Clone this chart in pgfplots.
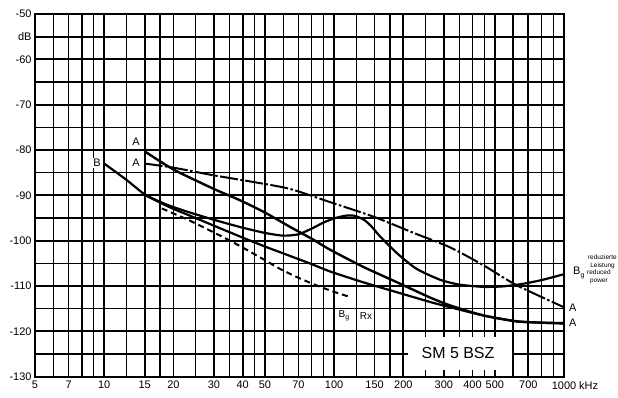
\documentclass[border=0pt]{standalone}
\usepackage{fontspec}
\setmainfont{Liberation Sans}
\usepackage{pgfplots}
\pgfplotsset{compat=1.18}
\begin{document}
\begin{tikzpicture}[x=1bp,y=1bp]
\useasboundingbox (-35,-20.4) rectangle (583,376.6);
\begin{semilogxaxis}[
  at={(0,0)}, anchor=south west,
  scale only axis, width=529bp, height=362.6bp,
  xmin=5, xmax=1000, ymin=-130, ymax=-50,
  xtick={5,7,10,15,20,30,40,50,70,100,150,200,300,400,500,700,1000},
  xticklabels={5,7,10,15,20,30,40,50,70,100,150,200,300,400,500,700,1000\rlap{ kHz}},
  minor xtick={6,8,9,12.5,17.5,25,35,45,60,80,90,125,175,250,350,450,600,800,900},
  ytick={-130,-120,-110,-100,-90,-80,-70,-60,-55,-50},
  yticklabels={-130,-120,-110,-100,-90,-80,-70,-60,dB,-50},
  minor ytick={-125,-115,-105,-95,-85,-75,-65},
  grid=both,
  major grid style={black, line width=1.8bp},
  minor grid style={black, line width=1.2bp},
  major tick length=0pt, minor tick length=0pt,
  axis line style={black, line width=2bp},
  tick label style={font=\fontsize{11}{11}\selectfont},
  xticklabel style={yshift=-1bp},
  /pgf/number format/assume math mode=true,
  clip=false,
]
% Bg reduced power (B curve with hump)
\addplot[black, line width=2.2bp, smooth, tension=0.4] coordinates {
 (10,-83) (12.5,-86.6) (15,-89.8) (17.8,-91.6) (20,-92.6) (23.6,-93.8) (30,-95.4)
 (39,-97.0) (50,-98.3) (60,-98.9) (70,-98.6) (81,-97.2) (90,-96.0) (100,-95.1)
 (112,-94.5) (122,-94.5) (134,-95.3) (145,-96.8) (158,-99.0) (188,-102.8)
 (228,-106.2) (288,-108.6) (350,-109.7) (445,-110.2) (540,-110.1) (650,-109.6)
 (800,-108.7) (1000,-107.4)};
% lower solid
\addplot[black, line width=2.2bp, smooth, tension=0.4] coordinates {
 (15,-89.9) (17.8,-91.8) (20,-93.0) (23.6,-94.5) (30,-96.7) (39,-99.1) (50,-101.3)
 (64.5,-103.4) (80,-105.2) (96,-106.8) (134,-109.2) (188,-111.4) (260,-113.5)
 (320,-114.7) (445,-116.5) (620,-117.8) (800,-118.1) (1000,-118.3)};
% A top
\addplot[black, line width=2.4bp, smooth, tension=0.4] coordinates {
 (15,-80.3) (20,-84.3) (30,-88.6) (39,-91.1) (50,-93.8) (64.5,-97.0) (80,-99.6)
 (96,-102.0) (134,-105.8) (188,-109.2) (260,-112.5) (320,-114.3) (445,-116.5)
 (620,-117.8) (800,-118.1) (1000,-118.2)};
% A dash-dot
\addplot[black, line width=2bp, smooth, tension=0.4, dash pattern=on 18bp off 2.5bp on 2.5bp off 2.5bp] coordinates {
 (15,-83) (20,-83.9) (30,-85.6) (45,-87.1) (64.5,-88.6) (96,-91.5) (150,-94.8)
 (222,-98.3) (320,-101.5) (445,-105.4) (620,-109.8) (1000,-114.7)};
% Bg Rx dashed
\addplot[black, line width=2bp, smooth, tension=0.4, dash pattern=on 6bp off 4bp] coordinates {
 (17.8,-92.9) (20,-94.0) (23.6,-95.6) (30,-98.2) (39,-101.2) (50,-104.3) (58,-106.2)
 (70,-108.2) (85,-110.0) (100,-111.3) (115,-112.3)};
\end{semilogxaxis}
% labels
\begin{scope}[every node/.style={fill=white, inner sep=1bp, font=\fontsize{11}{11}\selectfont}]
\node at (101,234.6) {A};
\node at (101,213.6) {A};
\node at (62,213.6) {B};
\node[font=\fontsize{10}{10}\selectfont] at (309,60.6) {B\raisebox{-0.4ex}{\fontsize{7}{7}\selectfont g}};
\node[font=\fontsize{10}{10}\selectfont] at (331,60.6) {Rx};
\end{scope}
\node[anchor=west, inner sep=0, font=\fontsize{11}{11}\selectfont] at (534,68.6) {A};
\node[anchor=west, inner sep=0, font=\fontsize{11}{11}\selectfont] at (534,53.6) {A};
\node[anchor=east, inner sep=0, font=\fontsize{6.5}{6.5}\selectfont] at (582,119.6) {reduzierte};
\node[anchor=east, inner sep=0, font=\fontsize{6.5}{6.5}\selectfont] at (580,110.9) {Leistung};
\node[anchor=west, inner sep=0, font=\fontsize{11}{11}\selectfont] at (538,103.6) {B\raisebox{-0.4ex}{\fontsize{7}{7}\selectfont g}};
\node[anchor=west, inner sep=0, font=\fontsize{6.5}{6.5}\selectfont] at (552,104.6) {reduced};
\node[anchor=west, inner sep=0, font=\fontsize{6.5}{6.5}\selectfont] at (555,95.6) {power};
% SM 5 BSZ box
\fill[white] (373,6.6) rectangle (477,39.6);
\node[font=\fontsize{16}{16}\selectfont] at (423,23.6) {SM 5 BSZ};
\end{tikzpicture}
\end{document}
